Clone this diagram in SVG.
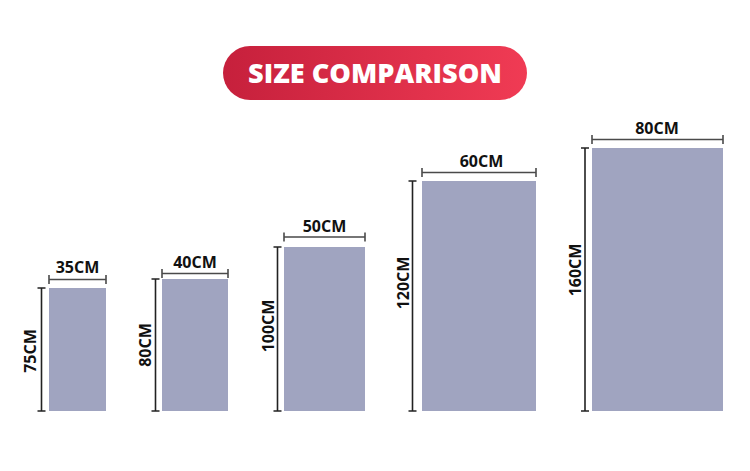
<svg xmlns="http://www.w3.org/2000/svg" width="750" height="471" viewBox="0 0 750 471">
<defs>
<linearGradient id="pill" x1="0" y1="0" x2="1" y2="0">
<stop offset="0" stop-color="#c6203c"/>
<stop offset="1" stop-color="#f03b54"/>
</linearGradient>
</defs>
<style>
.bar{fill:#a0a4c0}
.dimh{stroke:#4a4a4a;stroke-width:1.6;fill:none}
.dimv{stroke:#222;stroke-width:1.6;fill:none}
.lbl{font-family:"Open Sans","Noto Sans",sans-serif;font-weight:700;font-size:16px;fill:#111;text-anchor:middle}
.title{font-family:"Open Sans","Noto Sans",sans-serif;font-weight:800;font-size:27px;fill:#fff;text-anchor:middle}
</style>
<rect width="750" height="471" fill="#fff"/>
<g id="title">
<rect x="223" y="46" width="304" height="54" rx="27" fill="url(#pill)"/>
<text class="title" x="375" y="83" textLength="254" lengthAdjust="spacingAndGlyphs">SIZE COMPARISON</text>
</g>
<g id="bar35x75">
<rect class="bar" x="49" y="288" width="57" height="123"/>
<text class="lbl" x="77.5" y="273">35CM</text>
<text class="lbl" transform="translate(30,351) rotate(-90)" x="0" y="5.7">75CM</text>
</g>
<g id="bar40x80">
<rect class="bar" x="162" y="279" width="66" height="132"/>
<text class="lbl" x="195" y="268">40CM</text>
<text class="lbl" transform="translate(145,345) rotate(-90)" x="0" y="5.7">80CM</text>
</g>
<g id="bar50x100">
<rect class="bar" x="284" y="247" width="81" height="164"/>
<text class="lbl" x="324.5" y="232">50CM</text>
<text class="lbl" transform="translate(268,326) rotate(-90)" x="0" y="5.7">100CM</text>
</g>
<g id="bar60x120">
<rect class="bar" x="422" y="181" width="114" height="230"/>
<text class="lbl" x="481.5" y="167">60CM</text>
<text class="lbl" transform="translate(403,283) rotate(-90)" x="0" y="5.7">120CM</text>
</g>
<g id="bar80x160">
<rect class="bar" x="592" y="148" width="131" height="263"/>
<text class="lbl" x="657" y="134">80CM</text>
<text class="lbl" transform="translate(575,270) rotate(-90)" x="0" y="5.7">160CM</text>
</g>
<g id="connectors">
<path class="dimh" d="M49,279.5H106M49,275V284M106,275V284"/>
<path class="dimv" d="M41.5,288V411M37.5,288H45.5M37.5,411H45.5"/>
<path class="dimh" d="M162,273.5H228M162,269V278M228,269V278"/>
<path class="dimv" d="M155.5,279V411M151.5,279H159.5M151.5,411H159.5"/>
<path class="dimh" d="M284,237H365M284,232.5V241.5M365,232.5V241.5"/>
<path class="dimv" d="M277.5,247V411M273.5,247H281.5M273.5,411H281.5"/>
<path class="dimh" d="M422,172.5H536M422,168V177M536,168V177"/>
<path class="dimv" d="M412.5,181V411M408.5,181H416.5M408.5,411H416.5"/>
<path class="dimh" d="M592,139.5H723M592,135V144M723,135V144"/>
<path class="dimv" d="M585,148V411M581,148H589M581,411H589"/>
</g>
</svg>
